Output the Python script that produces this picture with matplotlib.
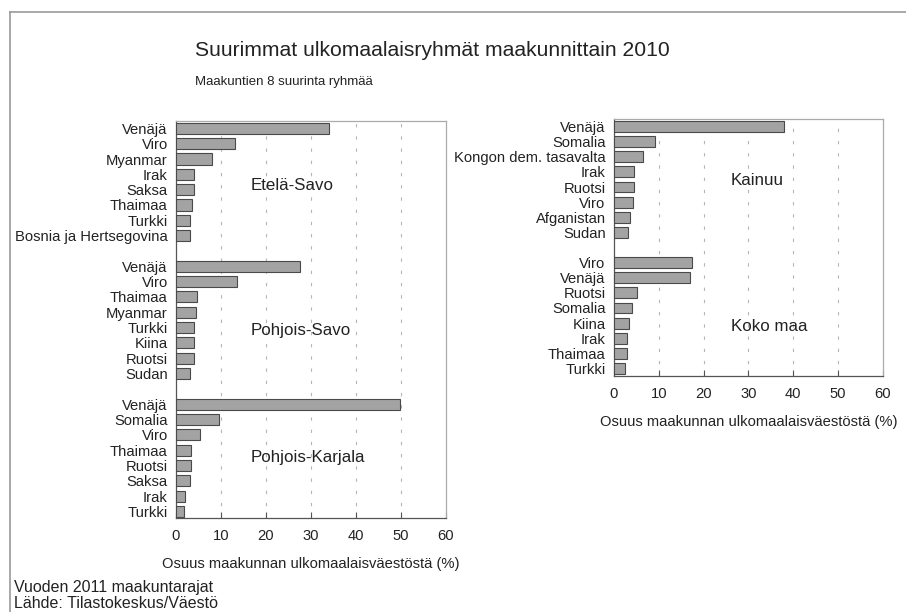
import matplotlib
matplotlib.use("Agg")
import matplotlib.pyplot as plt
from matplotlib.lines import Line2D

plt.rcParams['font.family'] = ['Liberation Sans', 'DejaVu Sans']

# ---- Data ----
etela_savo_labels = ["Venäjä", "Viro", "Myanmar", "Irak", "Saksa", "Thaimaa", "Turkki", "Bosnia ja Hertsegovina"]
etela_savo_values = [33.9, 13.2, 8.0, 4.1, 4.0, 3.6, 3.1, 3.0]

pohjois_savo_labels = ["Venäjä", "Viro", "Thaimaa", "Myanmar", "Turkki", "Kiina", "Ruotsi", "Sudan"]
pohjois_savo_values = [27.6, 13.6, 4.7, 4.4, 3.9, 3.9, 3.9, 3.2]

pohjois_karjala_labels = ["Venäjä", "Somalia", "Viro", "Thaimaa", "Ruotsi", "Saksa", "Irak", "Turkki"]
pohjois_karjala_values = [49.8, 9.6, 5.3, 3.3, 3.3, 3.0, 2.0, 1.7]

kainuu_labels = ["Venäjä", "Somalia", "Kongon dem. tasavalta", "Irak", "Ruotsi", "Viro", "Afganistan", "Sudan"]
kainuu_values = [38.0, 9.1, 6.4, 4.5, 4.4, 4.2, 3.6, 3.2]

koko_maa_labels = ["Viro", "Venäjä", "Ruotsi", "Somalia", "Kiina", "Irak", "Thaimaa", "Turkki"]
koko_maa_values = [17.5, 16.9, 5.2, 4.1, 3.4, 3.0, 3.0, 2.5]

left_groups = [("Etelä-Savo", etela_savo_labels, etela_savo_values),
               ("Pohjois-Savo", pohjois_savo_labels, pohjois_savo_values),
               ("Pohjois-Karjala", pohjois_karjala_labels, pohjois_karjala_values)]
right_groups = [("Kainuu", kainuu_labels, kainuu_values),
                ("Koko maa", koko_maa_labels, koko_maa_values)]

x_ticks = [0, 10, 20, 30, 40, 50, 60]
x_label = "Osuus maakunnan ulkomaalaisväestöstä (%)"

BAR_COLOR = "#a3a3a3"
EDGE_COLOR = "#4a4a4a"
TEXT_COLOR = "#222222"
FS = 10.6

fig = plt.figure(figsize=(9.06, 6.12), dpi=100)

# figure frame lines (top and left)
fig.add_artist(Line2D([0.011, 1.0], [0.980, 0.980], transform=fig.transFigure, color="#9a9a9a", lw=1.2))
fig.add_artist(Line2D([0.011, 0.011], [0.0, 0.980], transform=fig.transFigure, color="#9a9a9a", lw=1.2))


def draw_panel(ax, groups, ylim_bottom):
    positions, labels = [], []
    for gi, (name, labs, vals) in enumerate(groups):
        base = gi * 9
        ys = [base + i for i in range(len(vals))]
        ax.barh(ys, vals, height=0.72, color=BAR_COLOR, edgecolor=EDGE_COLOR, linewidth=0.8, zorder=3)
        positions += ys
        labels += labs
    ax.set_ylim(ylim_bottom, -0.5)
    ax.set_xlim(0, 60)
    ax.set_yticks(positions)
    ax.set_yticklabels(labels, fontsize=FS, color=TEXT_COLOR)
    ax.set_xticks(x_ticks)
    ax.set_xticklabels([str(t) for t in x_ticks], fontsize=FS, color=TEXT_COLOR)
    ax.tick_params(axis='y', length=0, pad=6)
    ax.tick_params(axis='x', direction='in', length=4, width=0.8, color="#555555", pad=8)
    for t in x_ticks[1:-1]:
        ax.axvline(t, color="#b5b5b5", lw=0.8, linestyle=(0, (3, 8)), zorder=1)
    ax.spines['left'].set_color("#555555")
    ax.spines['bottom'].set_color("#555555")
    ax.spines['top'].set_color("#aaaaaa")
    ax.spines['right'].set_color("#aaaaaa")
    for s in ax.spines.values():
        s.set_linewidth(0.9)
    ax.set_xlabel(x_label, fontsize=FS, color=TEXT_COLOR, labelpad=10)


ax1 = fig.add_axes([0.1943, 0.1541, 0.2980, 0.6487])
draw_panel(ax1, left_groups, 25.4)
left_text_pos = [3.7, 13.2, 21.5]
for (name, _, _), y in zip(left_groups, left_text_pos):
    ax1.text(16.5, y, name, fontsize=12.2, color=TEXT_COLOR, va='center', ha='left', zorder=4)

ax2 = fig.add_axes([0.6777, 0.3856, 0.2969, 0.4200])
draw_panel(ax2, right_groups, 16.5)
right_text_pos = [3.6, 13.2]
for (name, _, _), y in zip(right_groups, right_text_pos):
    ax2.text(26.1, y, name, fontsize=12.2, color=TEXT_COLOR, va='center', ha='left', zorder=4)

fig.text(0.2152, 0.918, "Suurimmat ulkomaalaisryhmät maakunnittain 2010", fontsize=15.2,
         color=TEXT_COLOR, va='center', ha='left')
fig.text(0.2152, 0.866, "Maakuntien 8 suurinta ryhmää", fontsize=9.5,
         color=TEXT_COLOR, va='center', ha='left')
fig.text(0.0155, 0.040, "Vuoden 2011 maakuntarajat", fontsize=11.5, color=TEXT_COLOR, va='center', ha='left')
fig.text(0.0155, 0.014, "Lähde: Tilastokeskus/Väestö", fontsize=11.5, color=TEXT_COLOR, va='center', ha='left')

fig.savefig("out.png", dpi=100, facecolor="white")
